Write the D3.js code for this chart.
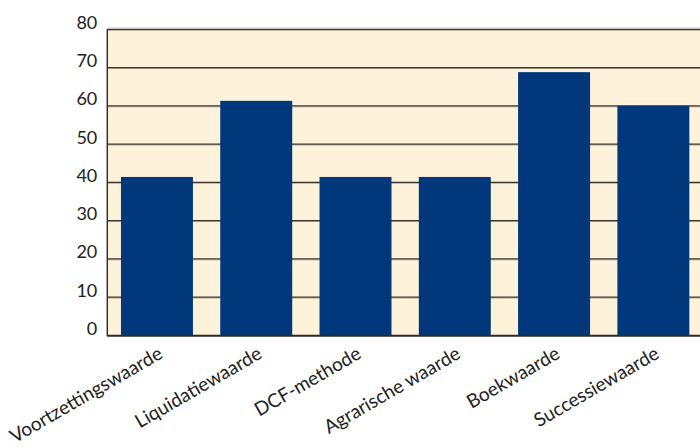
<!DOCTYPE html>
<html><head><meta charset="utf-8">
<script src="https://cdn.jsdelivr.net/npm/d3@7"></script>
<style>
html,body{margin:0;padding:0;background:#fff;}
svg{display:block;font-family:Lato,"Open Sans",sans-serif;}
</style></head>
<body>
<svg id="chart" width="700" height="448"></svg>
<script>
const categories = ["Voortzettingswaarde","Liquidatiewaarde","DCF-methode","Agrarische waarde","Boekwaarde","Successiewaarde"];
const values = [41.4, 61.3, 41.4, 41.4, 68.8, 60.0];
const yTicks = [0,10,20,30,40,50,60,70,80];

const svg = d3.select("#chart");
const mLeft = 107.3, mRight = 703, mTop = 29.3, mBottom = 335.3;

const x = d3.scaleBand().domain(categories).range([mLeft, mRight]).paddingInner(0.275).paddingOuter(0.1375);
const y = d3.scaleLinear().domain([0, 80]).range([mBottom, mTop]);

// plot background
svg.append("rect").attr("x", mLeft).attr("y", mTop).attr("width", mRight - mLeft).attr("height", mBottom - mTop).attr("fill", "#FEF3DA");

// top shadow line
svg.append("line").attr("x1", mLeft).attr("x2", 700).attr("y1", mTop - 1.5).attr("y2", mTop - 1.5).attr("stroke", "#d8d8d8").attr("stroke-width", 1);

// gridlines
const grid = svg.append("g");
grid.selectAll("line.sh").data(yTicks.filter(d => d > 0)).join("line")
  .attr("class", "sh")
  .attr("x1", mLeft).attr("x2", 700)
  .attr("y1", d => y(d) + 1).attr("y2", d => y(d) + 1)
  .attr("stroke", "#b5ab98").attr("stroke-width", 1);
grid.selectAll("line.g").data(yTicks.filter(d => d > 0)).join("line")
  .attr("class", "g")
  .attr("x1", mLeft).attr("x2", 700)
  .attr("y1", d => y(d)).attr("y2", d => y(d))
  .attr("stroke", "#3a3630").attr("stroke-width", 1.2);

// bars
svg.append("g").selectAll("rect").data(categories).join("rect")
  .attr("x", d => x(d)).attr("width", x.bandwidth())
  .attr("y", (d, i) => y(values[i])).attr("height", (d, i) => y(0) - y(values[i]))
  .attr("fill", "#00387B");

// axes lines
svg.append("line").attr("x1", mLeft).attr("x2", mLeft).attr("y1", mTop).attr("y2", mBottom + 1)
  .attr("stroke", "#333").attr("stroke-width", 1.5);
svg.append("line").attr("x1", mLeft).attr("x2", 700).attr("y1", mBottom + 0.5).attr("y2", mBottom + 0.5)
  .attr("stroke", "#2a2a2a").attr("stroke-width", 2);

// y axis labels
const yAxis = d3.axisLeft(y).tickValues(yTicks).tickSize(0).tickPadding(10);
const ya = svg.append("g").attr("transform", `translate(${mLeft},0)`).call(yAxis);
ya.select(".domain").remove();
ya.selectAll("text").attr("dy", "-0.05em").attr("font-size", 18).attr("fill", "#222")
  .attr("font-family", "Lato, sans-serif");

// x labels
const xAxis = d3.axisBottom(x).tickSize(0).tickPadding(0);
const xa = svg.append("g").attr("transform", `translate(0,${mBottom})`).call(xAxis);
xa.select(".domain").remove();
xa.selectAll("text")
  .attr("font-size", 19).attr("fill", "#222").attr("font-family", "Lato, sans-serif")
  .attr("text-anchor", "end").attr("dy", 0).attr("y", 0)
  .attr("transform", "translate(7,22) rotate(-30)");
</script>
</body></html>
